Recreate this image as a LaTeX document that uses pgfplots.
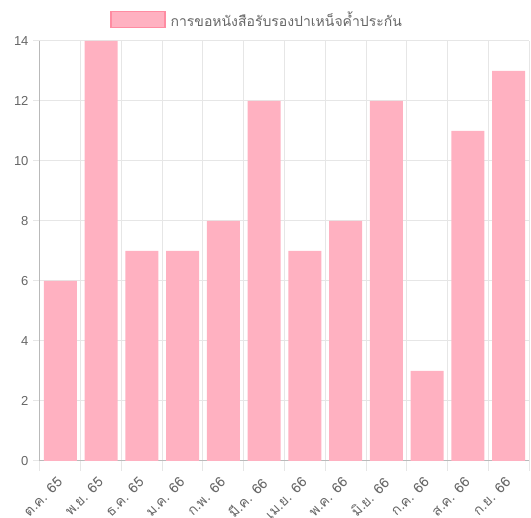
\documentclass[border=0pt]{standalone}
\usepackage{pgfplots}
\pgfplotsset{compat=1.18}
\usepackage{fontspec}
\setmainfont{Liberation Sans}
\newfontfamily\thaifont[Script=Thai]{Loma}
\definecolor{barfill}{RGB}{255,177,193}
\definecolor{barborder}{RGB}{255,140,162}
\definecolor{gridc}{RGB}{230,230,230}
\definecolor{axisc}{RGB}{185,185,185}
\definecolor{labc}{RGB}{102,102,102}
\begin{document}
\begin{tikzpicture}
\useasboundingbox (-40pt,-57pt) rectangle (491pt,461pt);
\begin{axis}[
  at={(0pt,0pt)}, anchor=south west,
  scale only axis, width=489pt, height=420pt,
  xmin=-0.5, xmax=11.5, ymin=0, ymax=14,
  ytick={0,2,...,14},
  xtick={0,...,11},
  xticklabels={ต.ค. 65, พ.ย. 65, ธ.ค. 65, ม.ค. 66, ก.พ. 66, มี.ค. 66, เม.ย. 66, พ.ค. 66, มิ.ย. 66, ก.ค. 66, ส.ค. 66, ก.ย. 66},
  minor xtick={-0.5,0.5,...,11.5},
  xminorgrids=true, ymajorgrids=true,
  grid style={draw=gridc, line width=1pt},
  minor grid style={draw=gridc, line width=1pt},
  major x tick style={draw=none},
  minor x tick style={draw=gridc, line width=1pt},
  y tick style={draw=gridc, line width=1pt},
  tick align=outside,
  major tick length=7pt, minor tick length=10pt,
  axis x line*=bottom, axis y line*=left,
  axis line style={draw=axisc, line width=1pt, -},
  tick label style={text=labc, font=\fontsize{13}{15}\selectfont},
  xticklabel style={font=\fontsize{14}{16}\thaifont, inner sep=0pt, yshift=-8pt, xshift=-4pt, rotate=45, anchor=north east},
  yticklabel style={xshift=-1pt},
  /pgf/number format/assume math mode=true,
  legend style={at={(0.5,1)}, anchor=south, yshift=9pt, xshift=-27.5pt, draw=none, fill=none,
    font=\fontsize{14}{16}\thaifont, text=labc, legend cell align=left,
    /tikz/every even column/.append style={column sep=0pt}},
  legend image code/.code={\draw[fill=barfill, draw=barborder, line width=1.5pt] (0pt,-8pt) rectangle (54pt,8pt);},
]
\addplot[ybar, bar width=32.8pt, fill=barfill, draw=none] coordinates {
  (0,6) (1,14) (2,7) (3,7) (4,8) (5,12) (6,7) (7,8) (8,12) (9,3) (10,11) (11,13)
};
\addlegendentry{\hspace{3pt}การขอหนังสือรับรองปาเหน็จค้ำประกัน}
\end{axis}
\end{tikzpicture}
\end{document}
